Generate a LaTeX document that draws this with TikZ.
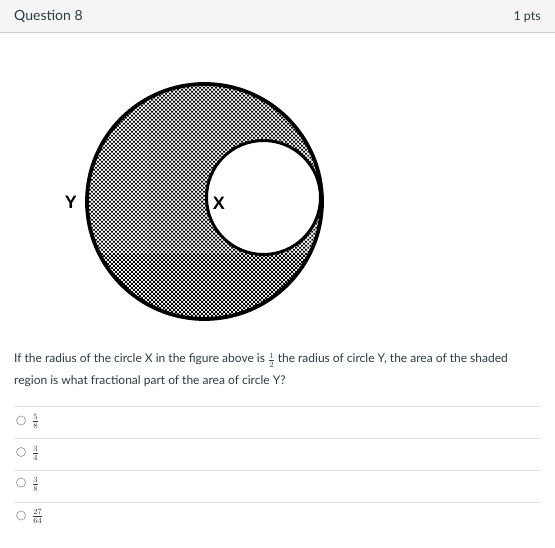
\documentclass[tikz,border=0pt]{standalone}
\usepackage{fontspec}
\setmainfont{Lato}
\newfontfamily\labfont{Liberation Sans}
\usetikzlibrary{patterns.meta}
\definecolor{txt}{HTML}{2D3B45}
\definecolor{hdrbg}{HTML}{F5F5F5}
\definecolor{hdrline}{HTML}{C7CDD1}
\definecolor{sep}{HTML}{E0E3E6}
\definecolor{radio}{HTML}{8A8F94}
\tikzdeclarepattern{
  name=halftone, type=uncolored,
  bounding box={(-1.5pt,-1.5pt) and (1.5pt,1.5pt)},
  tile size={(2.83pt,2.83pt)},
  tile transformation={rotate=45},
  code={\pgfpathcircle{\pgfpointorigin}{1.3pt}\pgfusepath{fill}}
}
\tikzset{
  body/.style={anchor=base west, inner sep=0pt, text=txt, font=\fontsize{12}{15}\selectfont},
  hdr/.style={inner sep=0pt, text=txt, font=\fontsize{14}{16}\selectfont},
  seprule/.style={draw=sep, line width=0.8pt},
  radiobtn/.style={draw=radio, line width=0.6pt, fill=white},
  ans/.style={anchor=west, inner sep=0pt, text=txt, font=\fontsize{11.5}{12}\selectfont},
  lab/.style={inner sep=0pt, font=\labfont\bfseries\fontsize{18}{18}\selectfont}
}
\begin{document}
\begin{tikzpicture}[x=1pt,y=-1pt]
\useasboundingbox (0,0) rectangle (555,548);
\fill[white] (0,0) rectangle (555,548);
% header
\fill[hdrbg] (0,0) rectangle (555,33);
\draw[hdrline, line width=1pt] (0,33) -- (555,33);
\node[hdr, anchor=base west] (qtitle) at (14,21) {Question 8};
\node[hdr, anchor=base east, font=\fontsize{12.5}{15}\selectfont] (pts) at (541,21) {1 pts};
% figure
\coordinate (cy) at (204.5,201.5);
\coordinate (cx) at (263.5,197.5);
\fill[pattern={halftone}, pattern color=black, even odd rule]
  (cy) circle (117.5) (cx) circle (57);
\draw[line width=3.8pt] (cy) circle (117.5);
\draw[line width=3pt, fill=white] (cx) circle (57);
\node[lab] (ylab) at (71,202) {Y};
\node[lab] (xlab) at (219,203) {X};
% question text
\node[body] (q1) at (14,363) {If the radius of the circle X in the figure above is $\frac{1}{2}$ the radius of circle Y, the area of the shaded};
\node[body] (q2) at (14,385) {region is what fractional part of the area of circle Y?};
% answers
\draw[seprule] (14,406.5) -- (541,406.5);
\draw[seprule] (14,438.5) -- (541,438.5);
\draw[seprule] (14,470.5) -- (541,470.5);
\draw[seprule] (14,502.5) -- (541,502.5);
\node[radiobtn, circle, minimum size=9pt, inner sep=0pt] (r1) at (21,420.5) {};
\node[radiobtn, circle, minimum size=9pt, inner sep=0pt] (r2) at (21,452) {};
\node[radiobtn, circle, minimum size=9pt, inner sep=0pt] (r3) at (21,482.5) {};
\node[radiobtn, circle, minimum size=9pt, inner sep=0pt] (r4) at (21,515.5) {};
\node[ans] (a1) at (32,421) {$\frac{5}{8}$};
\node[ans] (a2) at (32,453) {$\frac{3}{4}$};
\node[ans] (a3) at (32,484) {$\frac{3}{8}$};
\node[ans] (a4) at (32,516) {$\frac{27}{64}$};
\end{tikzpicture}
\end{document}
